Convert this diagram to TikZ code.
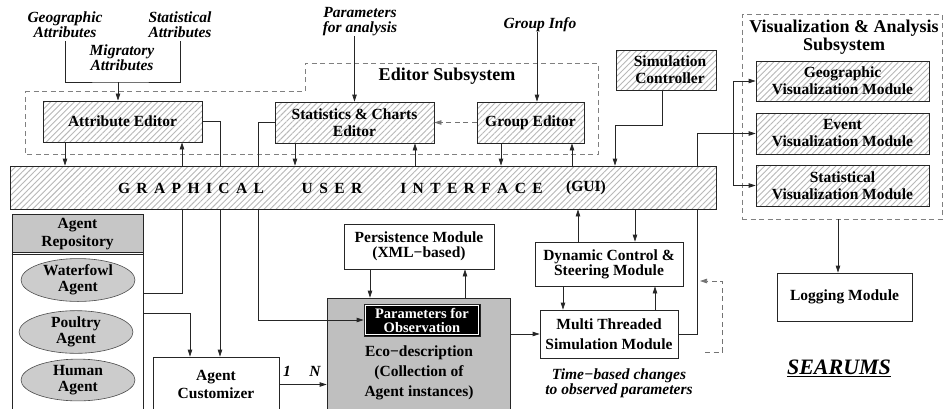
\documentclass[tikz,border=0pt]{standalone}
\usepackage{fontspec}
\setmainfont{Liberation Serif}
\usetikzlibrary{arrows.meta,patterns.meta,shapes.geometric}
\newcommand\guisp{\kern6.4pt}
\tikzset{
  box/.style={draw=black!85, line width=0.75pt, align=center, inner sep=0pt,
    font=\bfseries\fontsize{15.5}{17}\selectfont},
  hatched/.style={box, preaction={fill=white},
    pattern={Lines[angle=45,distance=4.2pt,line width=0.9pt]}, pattern color=black!28},
  lbl/.style={align=center, inner sep=0pt, font=\bfseries\itshape\fontsize{15.5}{15}\selectfont},
  txt/.style={align=center, inner sep=0pt, font=\bfseries\fontsize{15.5}{17}\selectfont},
  title/.style={align=center, inner sep=0pt, font=\bfseries\fontsize{18}{18}\selectfont},
  conn/.style={line width=0.75pt, draw=black!85},
  arr/.style={conn, -{Triangle[length=7pt,width=4.5pt]}},
  dasharr/.style={arr, draw=black!55, dash pattern=on 5pt off 3.5pt},
  dashbox/.style={draw=black!50, line width=0.8pt, dash pattern=on 5pt off 3.5pt},
  agent/.style={ellipse, draw=black!70, fill=gray!40, line width=0.6pt,
    minimum width=114pt, minimum height=41pt, inner sep=0pt, align=center,
    font=\bfseries\fontsize{15.5}{16}\selectfont}
}
\begin{document}
\begin{tikzpicture}[x=1pt,y=-1pt]
\useasboundingbox (0,0) rectangle (944,408);

% guide coordinates
\foreach \v in {65,295,370,415,465,501,537,563,572,578,635,655,662,838}
  {\coordinate (v\v) at (\v,0);}

% Editor subsystem frame
\draw[dashbox] (25,91) -- (305,91) -- (305,63) -- (598,63) -- (598,154) -- (25,154) -- cycle;
\node[title] (edtitle) at (447,76) {Editor Subsystem};

% Visualization subsystem frame
\node[dashbox, minimum width=200pt, minimum height=205pt, inner sep=0pt] (visbox) at (842,116.5) {};
\node[title] (vistitle) at (844,37) {Visualization \& Analysis\\Subsystem};

% editor boxes
\node[hatched, minimum width=159pt, minimum height=41pt] (attr) at (122.5,121.5) {Attribute Editor};
\node[hatched, minimum width=159pt, minimum height=41pt] (stats) at (354.5,122.5) {Statistics \& Charts\\Editor};
\node[hatched, minimum width=107pt, minimum height=41pt] (group) at (530.5,122.5) {Group Editor};

% simulation controller
\node[hatched, minimum width=100pt, minimum height=40pt] (simctl) at (666,70) {};
\node[txt] (simtxt) at (670,70) {Simulation\\Controller};

% visualization modules
\node[hatched, minimum width=173pt, minimum height=40pt] (geovis) at (842.5,81) {Geographic\\Visualization Module};
\node[hatched, minimum width=173pt, minimum height=41pt] (eventvis) at (842.5,133.5) {Event\\Visualization Module};
\node[hatched, minimum width=173pt, minimum height=41pt] (statvis) at (842.5,185.5) {Statistical\\Visualization Module};
\node[box, minimum width=135pt, minimum height=48pt] (logging) at (844.5,297) {Logging Module};

% lower modules
\node[box, minimum width=150pt, minimum height=45pt, font=\bfseries\fontsize{15.5}{15}\selectfont] (persist) at (419,246.5) {Persistence Module\\(XML−based)};
\node[box, fill=gray!50, minimum width=183pt, minimum height=114pt] (eco) at (418.5,355) {};
\node[txt, font=\bfseries\fontsize{15.5}{20}\selectfont] (ecotxt) at (419,373) {Eco−description\\(Collection of\\Agent instances)};
\node[box, fill=black, text=white, minimum width=116pt, minimum height=32pt, font=\bfseries\fontsize{14.5}{14}\selectfont] (params) at (422,320) {Parameters for\\Observation};
\draw[white, line width=0.7pt] ([xshift=2pt,yshift=2pt]params.south west) rectangle ([xshift=-2pt,yshift=-2pt]params.north east);
\node[box, minimum width=148pt, minimum height=44pt, font=\bfseries\fontsize{15.5}{15}\selectfont] (dyn) at (609,264) {Dynamic Control \&\\Steering Module};
\node[box, minimum width=138pt, minimum height=48pt, font=\bfseries\fontsize{15.5}{20}\selectfont] (multi) at (609,334) {Multi Threaded\\Simulation Module};
\node[box, minimum width=126pt, minimum height=55pt, font=\bfseries\fontsize{15.5}{18}\selectfont] (cust) at (216,384.5) {Agent\\Customizer};

% agent repository
\filldraw[fill=gray!45, draw=black!85, line width=0.75pt] (12,214) rectangle (143,252);
\node[box, minimum width=131pt, minimum height=200pt] (repo) at (77.5,314) {};
\draw[conn] ([yshift=-41pt]repo.north west) -- ([yshift=-41pt]repo.north east);
\node[txt, font=\bfseries\fontsize{15.5}{18}\selectfont] (repotitle) at (77.5,234) {Agent\\Repository};
\node[agent] (water) at (78,280) {Waterfowl\\Agent};
\node[agent] (poultry) at (76,332) {Poultry\\Agent};
\node[agent] (human) at (78,380) {Human\\Agent};

% italic labels
\node[lbl] (geoattr) at (65,25) {Geographic\\Attributes};
\node[lbl] (statattr) at (180,25) {Statistical\\Attributes};
\node[lbl] (migattr) at (122,58) {Migratory\\Attributes};
\node[lbl] (paraana) at (360,22) {Parameters\\for analysis};
\node[lbl] (grpinfo) at (540,25) {Group Info};
\node[lbl] (timelbl) at (619,383) {Time−based changes\\to observed parameters};
\node[lbl] (one) at (287,371) {1};
\node[lbl] (enn) at (315,371) {N};
\node[inner sep=0pt, font=\bfseries\itshape\fontsize{22}{22}\selectfont] (searums) at (839,368) {\underline{SEARUMS}};

% connectors passing behind the GUI bar
\coordinate (b1) at (182,293);
\draw[arr] (repo.east |- b1) -| (attr.south -| b1);
\coordinate (c1) at (220,0);
\draw[arr] (attr.east) -| (cust.north -| c1);
\coordinate (d1) at (258,320);
\draw[arr] (stats.west) -| (d1) -- (params.west);
\coordinate (m1) at (697,133.5);
\draw[arr] (multi.east) -| (m1) -- (eventvis.west);

% GUI bar
\node[hatched, minimum width=706pt, minimum height=43pt] (gui) at (363,187.5) {};
\node[txt] (g1) at (191,188) {G\guisp R\guisp A\guisp P\guisp H\guisp I\guisp C\guisp A\guisp L};
\node[txt] (g2) at (332,188) {U\guisp S\guisp E\guisp R};
\node[txt] (g3) at (471.5,188) {I\guisp N\guisp T\guisp E\guisp R\guisp F\guisp A\guisp C\guisp E};
\node[txt] (g4) at (586,188) {(GUI)};

% attribute inputs
\coordinate (junc) at (118,82);
\draw[conn] ([yshift=-3pt]geoattr.south) |- (junc) -| ([yshift=-3pt]statattr.south);
\draw[arr] (junc) -- (attr.north -| junc);

% editor <-> GUI
\draw[arr] (attr.south -| v65) -- (gui.north -| v65);
\draw[arr] (stats.south -| v295) -- (gui.north -| v295);
\draw[arr] (gui.north -| v415) -- (stats.south -| v415);
\draw[arr] (paraana.south -| stats.north) -- (stats.north);
\draw[arr] (grpinfo.south -| v537) -- (group.north -| v537);
\draw[dasharr] (group.west) -- (stats.east);
\draw[arr] (group.south -| v501) -- (gui.north -| v501);
\draw[arr] (gui.north -| v572) -- (group.south -| v572);

% simulation controller
\coordinate (l1) at (615,125);
\draw[arr] (simctl.south -| v662) |- (l1) -- (gui.north -| l1);

% visualization bus
\coordinate (bus1) at (733,81);
\coordinate (bus2) at (733,185.5);
\draw[conn] (bus1) -- (bus2);
\draw[arr] (bus1) -- (geovis.west);
\draw[arr] (bus2) -- (statvis.west);
\draw[arr] (visbox.south -| v838) -- (logging.north -| v838);

% dynamic control / simulation
\draw[arr] (gui.south -| v635) -- (dyn.north -| v635);
\draw[arr] (dyn.north -| v578) -- (gui.south -| v578);
\draw[arr] (dyn.south -| v563) -- (multi.north -| v563);
\draw[arr] (multi.north -| v655) -- (dyn.south -| v655);
\draw[arr] (eco.east |- multi.west) -- (multi.west);

% persistence
\draw[arr] (persist.south -| v370) -- (eco.north -| v370);
\draw[arr] (eco.north -| v465) -- (persist.south -| v465);

% agents
\draw[arr] (cust.east) -- (eco.west |- cust.east);
\coordinate (u1) at (190,313);
\draw[arr] (repo.east |- u1) -| (cust.north -| u1);

% feedback
\coordinate (w1) at (705,352);
\coordinate (w2) at (722,281);
\coordinate (w3) at (700,281);
\draw[dasharr] (w1) -| (w2) -- (w3);
\end{tikzpicture}
\end{document}
